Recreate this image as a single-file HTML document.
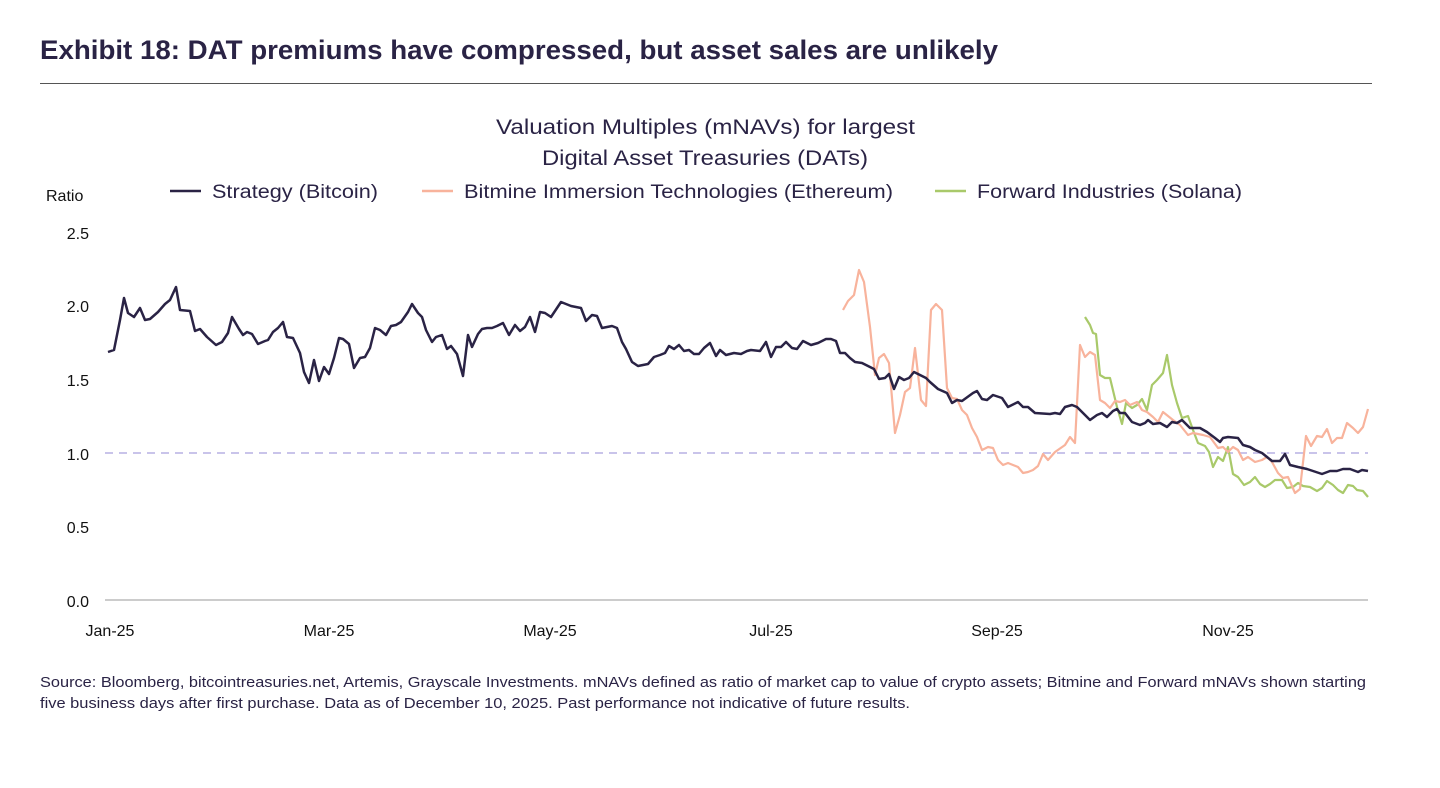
<!DOCTYPE html>
<html><head><meta charset="utf-8"><style>
html,body{margin:0;padding:0;background:#fff;}
body{width:1440px;height:788px;position:relative;overflow:hidden;font-family:"Liberation Sans",sans-serif;}
</style></head><body>
<svg width="1440" height="788" xmlns="http://www.w3.org/2000/svg" style="position:absolute;left:0;top:0">
<text x="40" y="59" font-family="Liberation Sans" font-weight="bold" font-size="27" fill="#2a2345" textLength="958" lengthAdjust="spacingAndGlyphs">Exhibit 18: DAT premiums have compressed, but asset sales are unlikely</text>
<line x1="40" y1="83.5" x2="1372" y2="83.5" stroke="#555" stroke-width="1"/>
<g font-family="Liberation Sans" font-size="21" fill="#2a2345">
<text x="496" y="134" textLength="419" lengthAdjust="spacingAndGlyphs">Valuation Multiples (mNAVs) for largest</text>
<text x="542" y="165" textLength="326" lengthAdjust="spacingAndGlyphs">Digital Asset Treasuries (DATs)</text>
</g>
<g font-family="Liberation Sans" font-size="19" fill="#2a2345">
<line x1="170" y1="191" x2="201" y2="191" stroke="#2a2345" stroke-width="2.5"/>
<text x="212" y="198" textLength="166" lengthAdjust="spacingAndGlyphs">Strategy (Bitcoin)</text>
<line x1="422" y1="191" x2="453" y2="191" stroke="#f8b39c" stroke-width="2.5"/>
<text x="464" y="198" textLength="429" lengthAdjust="spacingAndGlyphs">Bitmine Immersion Technologies (Ethereum)</text>
<line x1="935" y1="191" x2="966" y2="191" stroke="#a9c96a" stroke-width="2.5"/>
<text x="977" y="198" textLength="265" lengthAdjust="spacingAndGlyphs">Forward Industries (Solana)</text>
</g>
<g font-family="Liberation Sans" font-size="16" fill="#111">
<text x="46" y="201">Ratio</text>
<g text-anchor="end">
<text x="89" y="239">2.5</text>
<text x="89" y="312">2.0</text>
<text x="89" y="386">1.5</text>
<text x="89" y="460">1.0</text>
<text x="89" y="533">0.5</text>
<text x="89" y="607">0.0</text>
</g>
<g text-anchor="middle">
<text x="110" y="636">Jan-25</text>
<text x="329" y="636">Mar-25</text>
<text x="550" y="636">May-25</text>
<text x="771" y="636">Jul-25</text>
<text x="997" y="636">Sep-25</text>
<text x="1228" y="636">Nov-25</text>
</g>
</g>
<line x1="105" y1="600" x2="1368" y2="600" stroke="#999" stroke-width="1"/>
<line x1="105" y1="453" x2="1368" y2="453" stroke="#c9c4ea" stroke-width="2" stroke-dasharray="8,6"/>
<polyline fill="none" stroke="#a9c96a" stroke-width="2.2" stroke-linejoin="round" points="1085,317 1090,325 1093,333 1096,334 1100,375 1105,378 1110,378 1117,407 1122,424 1126,403 1132,408 1137,405 1142,399 1147,410 1152,385 1157,380 1163,373 1167,355 1172,385 1177,403 1182,418 1188,416 1193,430 1198,443 1205,446 1209,452 1213,467 1218,457 1223,461 1228,447 1233,474 1238,477 1244,485 1250,482 1255,477 1260,484 1265,487 1270,484 1275,480 1282,480 1287,488 1293,487 1298,483 1303,486 1310,487 1317,491 1322,488 1327,481 1333,485 1338,490 1343,493 1348,485 1353,486 1357,490 1363,491 1368,497"/>
<polyline fill="none" stroke="#f8b39c" stroke-width="2.2" stroke-linejoin="round" points="843,310 848,301 854,295 859,270 864,282 870,327 875,375 879,358 884,354 889,363 895,433 900,415 905,392 910,388 915,348 921,400 926,406 931,310 936,304 942,310 947,388 952,398 957,399 962,410 967,415 972,428 977,437 982,450 988,447 993,448 998,460 1003,465 1008,463 1013,465 1018,467 1023,473 1028,472 1033,470 1038,466 1043,454 1048,460 1055,452 1065,445 1070,437 1075,443 1080,345 1085,357 1090,352 1095,355 1100,400 1105,403 1110,408 1115,401 1120,402 1125,400 1130,405 1137,402 1142,410 1147,412 1153,417 1158,422 1163,412 1168,416 1173,420 1180,425 1188,435 1193,433 1203,435 1210,437 1218,448 1223,447 1228,452 1233,447 1238,450 1243,460 1248,457 1255,462 1262,460 1267,457 1272,462 1278,473 1283,478 1288,477 1295,493 1300,489 1306,436 1311,446 1317,436 1322,437 1327,429 1332,443 1337,438 1342,438 1347,423 1353,428 1358,433 1363,427 1368,409"/>
<polyline fill="none" stroke="#2a2345" stroke-width="2.5" stroke-linejoin="round" points="108,352 114,350 120,320 124,298 128,313 131,315 134,317 140,308 145,320 150,319 158,312 165,304 170,300 176,287 180,310 190,311 195,331 200,329 207,337 216,345 222,342 228,333 232,317 239,329 243,335 247,332 252,334 258,344 265,341 268,340 273,332 278,328 283,322 287,337 293,338 300,353 304,372 309,383 314,360 319,381 324,367 329,374 334,358 339,338 343,339 349,344 354,368 360,358 365,357 370,348 375,328 380,330 386,335 391,326 396,325 401,322 408,312 412,304 418,313 422,317 426,330 432,342 436,337 442,335 447,349 451,346 457,354 463,376 468,335 472,347 478,334 482,329 487,328 492,328 497,326 503,323 509,335 515,325 520,331 525,327 530,317 535,332 540,312 545,313 551,317 561,302 571,306 581,308 586,321 592,315 597,316 602,328 607,327 612,326 617,328 622,342 626,349 632,362 638,366 643,365 648,364 654,357 660,355 665,353 669,346 674,349 679,345 684,351 689,350 694,354 699,354 704,348 710,343 716,356 720,350 726,355 734,353 741,354 747,351 751,350 760,351 766,342 771,357 776,347 781,347 786,342 792,348 797,349 803,341 811,345 818,343 826,339 831,339 836,341 840,353 845,353 850,358 855,362 862,363 868,366 874,369 879,379 885,378 889,374 894,389 899,377 904,380 909,378 914,372 920,375 926,378 930,382 938,389 947,393 952,403 957,400 962,401 973,393 977,391 982,399 987,400 993,395 1002,398 1008,407 1018,402 1023,407 1028,407 1035,413 1050,414 1055,413 1060,414 1065,407 1072,405 1077,407 1083,413 1090,420 1097,415 1102,413 1107,417 1113,411 1117,409 1120,413 1125,413 1132,422 1140,425 1145,423 1148,420 1153,424 1160,423 1167,427 1172,422 1177,423 1182,420 1190,428 1200,428 1207,432 1215,438 1220,442 1223,438 1228,437 1238,438 1243,445 1250,447 1255,450 1262,453 1267,457 1272,461 1280,461 1285,454 1290,465 1298,467 1307,469 1322,474 1330,471 1337,471 1343,469 1350,469 1358,472 1362,470 1368,471"/>
<g font-family="Liberation Sans" font-size="14.5" fill="#2a2345">
<text x="40" y="687" textLength="1326" lengthAdjust="spacingAndGlyphs">Source: Bloomberg, bitcointreasuries.net, Artemis, Grayscale Investments. mNAVs defined as ratio of market cap to value of crypto assets; Bitmine and Forward mNAVs shown starting</text>
<text x="40" y="708" textLength="870" lengthAdjust="spacingAndGlyphs">five business days after first purchase. Data as of December 10, 2025. Past performance not indicative of future results.</text>
</g>
</svg>
</body></html>
